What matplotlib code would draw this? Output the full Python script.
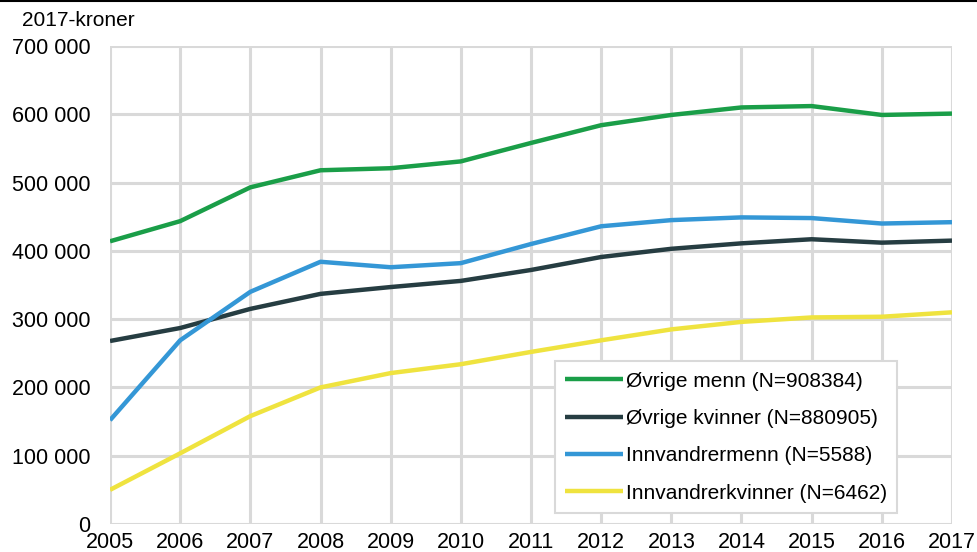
import matplotlib
matplotlib.use('Agg')
import matplotlib.pyplot as plt
from matplotlib.ticker import FuncFormatter, MultipleLocator
from matplotlib.transforms import ScaledTranslation

plt.rcParams['font.family'] = ['Liberation Sans', 'DejaVu Sans']

years = list(range(2005, 2018))
ovrige_menn = [414000, 443500, 493000, 518000, 521000, 531000, 558000, 584000, 599000, 610000, 612000, 599000, 601000]
ovrige_kvinner = [268000, 287000, 315000, 337000, 347000, 356000, 372000, 391000, 403000, 411000, 417000, 412000, 415000]
innv_menn = [152000, 269000, 340000, 384000, 376000, 382000, 410000, 436000, 445000, 449000, 448000, 440000, 442000]
innv_kvinner = [50000, 103500, 158000, 200000, 221000, 234000, 252000, 269000, 285000, 296000, 302500, 303500, 310000]

labels = ['Øvrige menn (N=908384)', 'Øvrige kvinner (N=880905)',
          'Innvandrermenn (N=5588)', 'Innvandrerkvinner (N=6462)']
colors = ['#1a9e48', '#263d42', '#3497d6', '#efe33f']
series = [ovrige_menn, ovrige_kvinner, innv_menn, innv_kvinner]

fig = plt.figure(figsize=(9.77, 5.52), dpi=100)
ax = fig.add_axes([0.1126, 0.0507, 0.8618, 0.866])

for vals, lab, col in zip(series, labels, colors):
    ax.plot(years, vals, color=col, lw=3.2, label=lab, solid_capstyle='butt', zorder=3)

ax.set_xlim(2005, 2017)
ax.set_ylim(0, 700000)
ax.set_xticks(years)
ax.yaxis.set_major_locator(MultipleLocator(100000))
ax.yaxis.set_major_formatter(FuncFormatter(lambda v, p: f'{v:,.0f}'.replace(',', ' ')))
ax.grid(True, color='#d9d9d9', lw=2.2, zorder=0)
ax.set_axisbelow(True)
for s in ax.spines.values():
    s.set_visible(False)
ax.tick_params(length=0, labelsize=15.5, colors='black')
ax.tick_params(axis='x', pad=6)
ax.tick_params(axis='y', pad=14)

# lift the "0" label a little so it clears "2005"
zero_lab = ax.yaxis.get_major_ticks()[0].label1
zero_lab.set_transform(zero_lab.get_transform() + ScaledTranslation(0, 3 / 72, fig.dpi_scale_trans))

fig.text(0.023, 0.962, '2017-kroner', fontsize=15, va='center')
fig.add_artist(plt.Line2D([0, 1], [0.998, 0.998], color='black', lw=1.5))

leg = ax.legend(loc='lower left', bbox_to_anchor=(0.5285, 0.023), fontsize=15,
                handlelength=2.75, handletextpad=0.15, labelspacing=0.88,
                borderpad=0.5, borderaxespad=0, fancybox=False, framealpha=1,
                edgecolor='#d9d9d9')
leg.get_frame().set_linewidth(1.5)

fig.savefig('out.png', dpi=100)
